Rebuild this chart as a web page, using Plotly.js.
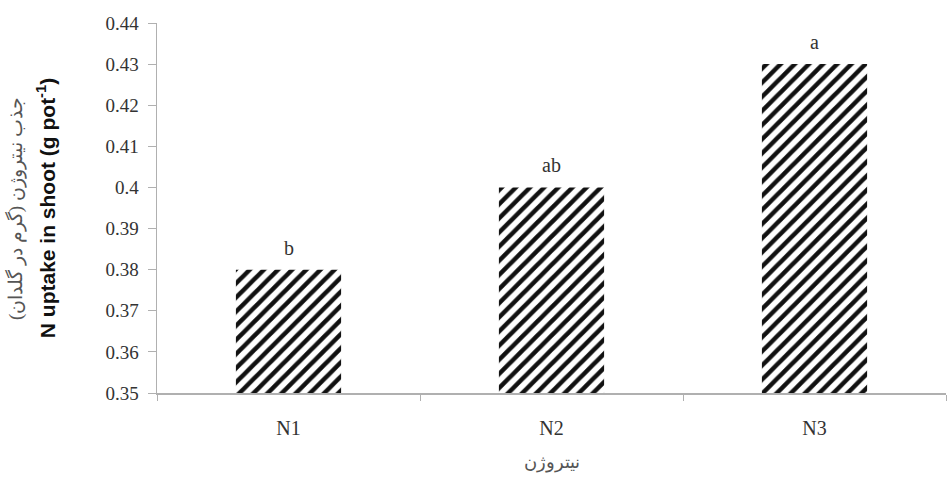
<!DOCTYPE html>
<html>
<head>
<meta charset="utf-8">
<script src="https://cdn.plot.ly/plotly-3.0.1.min.js"></script>
<style>
  html, body { margin: 0; padding: 0; background: #fff; }
  #chart { width: 948px; height: 480px; }
</style>
</head>
<body>
<div id="chart"></div>
<script>
// Nitrogen treatment levels and shoot N uptake (g per pot)
var treatments = ['N1', 'N2', 'N3'];
var uptake = [0.38, 0.40, 0.43];
// Mean separation letters
var letters = ['b', 'ab', 'a'];
// Y axis ticks
var yTickVals = [0.35, 0.36, 0.37, 0.38, 0.39, 0.40, 0.41, 0.42, 0.43, 0.44];
var yTickText = ['0.35', '0.36', '0.37', '0.38', '0.39', '0.4', '0.41', '0.42', '0.43', '0.44'];

var serif = 'Liberation Serif, Times New Roman, serif';

var trace = {
  type: 'bar',
  x: treatments,
  y: uptake,
  base: 0,
  marker: {
    color: '#ffffff',
    line: { width: 0 },
    pattern: { shape: '/', fgcolor: '#111111', bgcolor: '#ffffff', size: 10, solidity: 0.45 }
  },
  hoverinfo: 'none'
};

var annotations = treatments.map(function (t, i) {
  return {
    x: t, y: uptake[i], xref: 'x', yref: 'y',
    text: letters[i], showarrow: false,
    yanchor: 'bottom', yshift: 9,
    font: { family: serif, size: 20, color: '#333' }
  };
});

// Persian axis caption, drawn beside the English title
annotations.push({
  xref: 'paper', yref: 'paper', x: -0.18, y: 0.5,
  xanchor: 'center', yanchor: 'middle',
  text: 'جذب نیتروژن (گرم در گلدان)', textangle: -90, showarrow: false,
  font: { family: serif, size: 19, color: '#555' }
});

var layout = {
  width: 948, height: 480,
  margin: { l: 157, r: 2, t: 23, b: 87 },
  paper_bgcolor: '#fff', plot_bgcolor: '#fff',
  bargap: 0.6,
  showlegend: false,
  xaxis: {
    type: 'category',
    showline: true, linecolor: '#b0b0b0', linewidth: 1.5,
    ticks: 'outside', tickson: 'boundaries', ticklen: 6, tickcolor: '#b0b0b0',
    ticklabelstandoff: 16,
    showgrid: false, zeroline: false,
    tickfont: { family: serif, size: 20, color: '#333' },
    title: { text: 'نیتروژن', standoff: 18, font: { family: serif, size: 18, color: '#555' } }
  },
  yaxis: {
    range: [0.35, 0.44],
    tickvals: yTickVals, ticktext: yTickText,
    showline: true, linecolor: '#b0b0b0', linewidth: 1.5,
    ticks: 'outside', ticklen: 8, tickcolor: '#b0b0b0',
    ticklabelstandoff: 5,
    showgrid: false, zeroline: false,
    tickfont: { family: serif, size: 19, color: '#333' },
    title: { text: '<b>N uptake in shoot (g pot<sup>-1</sup>)</b>', standoff: 44,
             font: { family: 'Liberation Sans, Arial, sans-serif', size: 21, color: '#111' } }
  },
  annotations: annotations
};

Plotly.newPlot('chart', [trace], layout, { staticPlot: true, displayModeBar: false });
</script>
</body>
</html>
